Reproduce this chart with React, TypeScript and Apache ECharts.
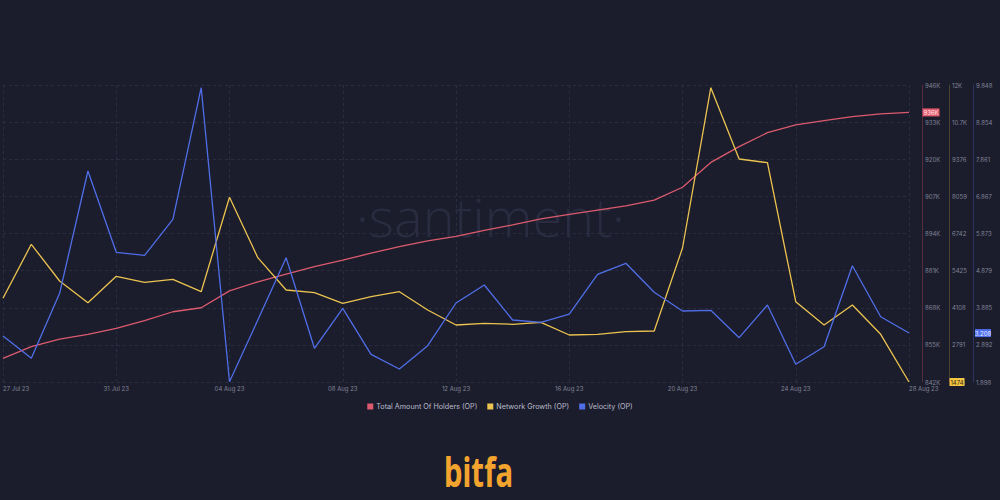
import React, { useEffect, useRef } from "react";
import * as echarts from "echarts";

const dates = [
  "27 Jul 23", "28 Jul 23", "29 Jul 23", "30 Jul 23", "31 Jul 23", "01 Aug 23", "02 Aug 23", "03 Aug 23",
  "04 Aug 23", "05 Aug 23", "06 Aug 23", "07 Aug 23", "08 Aug 23", "09 Aug 23", "10 Aug 23", "11 Aug 23",
  "12 Aug 23", "13 Aug 23", "14 Aug 23", "15 Aug 23", "16 Aug 23", "17 Aug 23", "18 Aug 23", "19 Aug 23",
  "20 Aug 23", "21 Aug 23", "22 Aug 23", "23 Aug 23", "24 Aug 23", "25 Aug 23", "26 Aug 23", "27 Aug 23",
  "28 Aug 23",
];

const holders = [
  850300, 854400, 857000, 858700, 860800, 863500, 866600, 868000,
  873900, 877100, 879800, 882400, 884700, 887100, 889400, 891400,
  893000, 895100, 897000, 899100, 900700, 902200, 903700, 905700,
  910200, 918900, 924400, 929300, 932000, 933500, 934900, 935900,
  936400,
];

const networkGrowth = [
  4443, 6359, 5057, 4287, 5224, 5011, 5117, 4677,
  8026, 5884, 4738, 4642, 4266, 4500, 4677, 4028,
  3496, 3556, 3521, 3592, 3141, 3166, 3258, 3283,
  6228, 11914, 9385, 9254, 4323, 3496, 4206, 3166,
  1474,
];

const velocity = [
  3.129, 2.532, 4.272, 7.546, 5.37, 5.289, 6.253, 9.776,
  1.905, 3.558, 5.225, 2.8, 3.871, 2.639, 2.246, 2.87,
  4.013, 4.494, 3.558, 3.496, 3.718, 4.781, 5.075, 4.299,
  3.798, 3.817, 3.084, 3.959, 2.372, 2.843, 5.011, 3.646,
  3.208,
];

const seriesNames = ["Total Amount Of Holders (OP)", "Network Growth (OP)", "Velocity (OP)"];

const RED = "#dc5a6e";
const YELLOW = "#ebc350";
const BLUE = "#4f6ee8";
const BG = "#1c1d2c";
const LABEL = "#7f8396";

const fmtHolders = (v: number) => (v / 1000).toFixed(0) + "K";
const fmtGrowth = (v: number) =>
  v >= 10000 ? (v / 1000).toFixed(1).replace(/\.0$/, "") + "K" : String(Math.round(v));
const fmtVelocity = (v: number) => v.toFixed(3);

export default function App() {
  const ref = useRef<HTMLDivElement>(null);
  useEffect(() => {
    if (!ref.current) return;
    const chart = echarts.init(ref.current, null, { renderer: "svg" });
    const last = dates.length - 1;
    const badge = (value: number, color: string, textColor: string, offset: number, fmt: (v: number) => string, w: number) => ({
      symbol: "rect",
      symbolSize: [w, 8],
      symbolOffset: [offset, 0],
      silent: true,
      data: [
        {
          coord: [last, value],
          itemStyle: { color },
          label: {
            show: true,
            position: "inside",
            formatter: () => fmt(value),
            color: textColor,
            fontSize: 6,
            fontFamily: "Inter",
          },
        },
      ],
    });
    const yAxisBase = (offset: number, lineColor: string) => ({
      type: "value",
      position: "right",
      offset,
      axisLine: { show: true, lineStyle: { color: lineColor, width: 1 } },
      axisTick: { show: false },
      axisLabel: { color: LABEL, fontSize: 6, fontFamily: "Inter", margin: 3 },
      splitLine: { show: false },
    });
    chart.setOption({
      animation: false,
      backgroundColor: BG,
      grid: { left: 0, right: 91, top: 85, bottom: 118, containLabel: false },
      legend: {
        data: seriesNames,
        top: 398,
        left: "center",
        icon: "rect",
        itemWidth: 6,
        itemHeight: 6,
        itemGap: 10,
        textStyle: { color: "#b9bccb", fontSize: 7.2, fontFamily: "Inter", padding: [0, 0, 0, -2] },
      },
      graphic: [
        {
          type: "text",
          z: -1,
          left: 356,
          top: 189,
          style: {
            text: "·santiment·",
            fill: "#292c40",
            fontSize: 54,
            fontFamily: "Open Sans",
            fontWeight: 300,
          },
        },
        {
          type: "text",
          left: 444,
          top: 450,
          scaleX: 0.7,
          style: {
            text: "bitfa",
            fill: "#f3a42e",
            fontSize: 42,
            fontFamily: "Noto Sans",
            fontWeight: "bold",
          },
        },
      ],
      xAxis: {
        type: "category",
        data: dates,
        boundaryGap: false,
        axisLine: { show: false },
        axisTick: { show: false },
        axisLabel: {
          interval: 3,
          color: LABEL,
          fontSize: 6,
          fontFamily: "Inter",
          margin: 3,
          alignMinLabel: "left",
          alignMaxLabel: "left",
        },
        splitLine: {
          show: true,
          interval: 3,
          lineStyle: { color: "#2a2d40", type: [3, 3], width: 1 },
        },
      },
      yAxis: [
        {
          ...yAxisBase(13, "#552c3b"),
          min: 842000,
          max: 946000,
          interval: 13000,
          axisLabel: { color: LABEL, fontSize: 6, fontFamily: "Inter", margin: 3, formatter: fmtHolders },
          splitLine: { show: true, lineStyle: { color: "#2a2d40", type: [3, 3], width: 1 } },
        },
        {
          ...yAxisBase(40, "#4c422f"),
          min: 1474,
          max: 12010,
          interval: 1317,
          axisLabel: { color: LABEL, fontSize: 6, fontFamily: "Inter", margin: 3, formatter: fmtGrowth },
        },
        {
          ...yAxisBase(64, "#2b3361"),
          min: 1.898,
          max: 9.848,
          interval: 0.99375,
          axisLabel: { color: LABEL, fontSize: 6, fontFamily: "Inter", margin: 3, formatter: fmtVelocity },
        },
      ],
      series: [
        {
          name: seriesNames[0],
          type: "line",
          yAxisIndex: 0,
          data: holders,
          showSymbol: false,
          symbol: "none",
          lineStyle: { color: RED, width: 1.3 },
          itemStyle: { color: RED },
          markPoint: badge(holders[last], "#e35a6c", "#ffe9ec", 22, fmtHolders, 17),
        },
        {
          name: seriesNames[1],
          type: "line",
          yAxisIndex: 1,
          data: networkGrowth,
          showSymbol: false,
          symbol: "none",
          lineStyle: { color: YELLOW, width: 1.3 },
          itemStyle: { color: YELLOW },
          markPoint: badge(networkGrowth[last], "#f2c543", "#3a2f10", 48, fmtGrowth, 15),
        },
        {
          name: seriesNames[2],
          type: "line",
          yAxisIndex: 2,
          data: velocity,
          showSymbol: false,
          symbol: "none",
          lineStyle: { color: BLUE, width: 1.3 },
          itemStyle: { color: BLUE },
          markPoint: badge(velocity[last], "#4f6ff0", "#e8ecff", 74, fmtVelocity, 16),
        },
      ],
    });
    return () => chart.dispose();
  }, []);
  return (
    <div
      ref={ref}
      style={{ position: "fixed", left: 0, top: 0, width: 1000, height: 500 }}
    />
  );
}
